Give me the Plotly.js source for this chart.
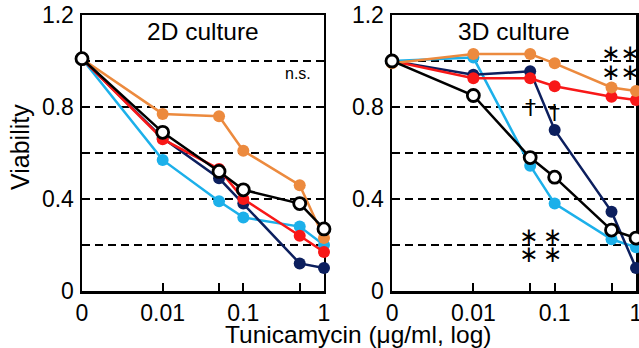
<!DOCTYPE html>
<html>
<head>
<meta charset="utf-8">
<script src="https://cdn.plot.ly/plotly-3.0.1.min.js"></script>
<style>html,body{margin:0;padding:0;background:#fff;}#chart{width:639px;height:348px;}</style>
</head>
<body>
<div id="chart"></div>
<script>
// Doses (µg/ml); the "0" dose is placed one decade below 0.01 on the log axis
const doses = [0.001, 0.01, 0.05, 0.1, 0.5, 1];
const doseTickText = ["0", "0.01", "", "0.1", "", "1"];
const yTickVals = [0, 0.2, 0.4, 0.6, 0.8, 1.0, 1.2];
const yTickText = ["0", "", "0.4", "", "0.8", "", "1.2"];

// 2D culture viability
const lightblue2D = [1.01, 0.57, 0.39, 0.32, 0.28, 0.20];
const navy2D      = [1.01, 0.665, 0.49, 0.38, 0.12, 0.10];
const red2D       = [1.01, 0.66, 0.53, 0.40, 0.24, 0.17];
const orange2D    = [1.01, 0.77, 0.76, 0.61, 0.46, 0.23];
const black2D     = [1.01, 0.69, 0.52, 0.44, 0.38, 0.27];

// 3D culture viability
const lightblue3D = [1.0, 1.015, 0.545, 0.38, 0.225, 0.19];
const navy3D      = [1.0, 0.94, 0.955, 0.70, 0.345, 0.10];
const red3D       = [1.0, 0.925, 0.925, 0.89, 0.845, 0.83];
const orange3D    = [0.99, 1.03, 1.03, 0.99, 0.885, 0.87];
const black3D     = [1.0, 0.85, 0.58, 0.495, 0.265, 0.23];

const colors = {lightblue: '#1CB0EA', navy: '#0C1F5E', red: '#F81818', orange: '#EC8A3E', black: '#000000'};

function filled(x, y, c, xa, ya) {
  return {x: x, y: y, xaxis: xa, yaxis: ya, type: 'scatter', mode: 'lines+markers', cliponaxis: false,
    line: {color: c, width: 2.5}, marker: {color: c, size: 12}, showlegend: false, hoverinfo: 'skip'};
}
function open(x, y, xa, ya) {
  return {x: x, y: y, xaxis: xa, yaxis: ya, type: 'scatter', mode: 'lines+markers', cliponaxis: false,
    line: {color: '#000', width: 2.5}, marker: {color: '#fff', size: 12, line: {color: '#000', width: 2.8}},
    showlegend: false, hoverinfo: 'skip'};
}

const data = [
  filled(doses, lightblue2D, colors.lightblue, 'x', 'y'),
  filled(doses, navy2D, colors.navy, 'x', 'y'),
  filled(doses, red2D, colors.red, 'x', 'y'),
  filled(doses, orange2D, colors.orange, 'x', 'y'),
  open(doses, black2D, 'x', 'y'),
  filled(doses, lightblue3D, colors.lightblue, 'x2', 'y2'),
  filled(doses, navy3D, colors.navy, 'x2', 'y2'),
  filled(doses, red3D, colors.red, 'x2', 'y2'),
  filled(doses, orange3D, colors.orange, 'x2', 'y2'),
  open(doses, black3D, 'x2', 'y2')
];

const font = {family: 'Liberation Sans, Arial, Helvetica, sans-serif', color: '#000'};

function xax(domain, anchor) {
  return {domain: domain, anchor: anchor, type: 'log', range: [-3, 0],
    tickvals: doses, ticktext: doseTickText, ticks: 'inside', ticklen: 8, tickwidth: 2, tickcolor: '#000',
    showline: true, linecolor: '#000', linewidth: 2.5, mirror: true, showgrid: false, zeroline: false,
    ticklabeloverflow: 'allow',
    tickfont: Object.assign({size: 23}, font), layer: 'below traces', fixedrange: true};
}
function yax(anchor) {
  return {domain: [0, 1], anchor: anchor, range: [0, 1.2], tickvals: yTickVals, ticktext: yTickText,
    ticks: '', showline: true, linecolor: '#000', linewidth: 2.5, mirror: true,
    showgrid: true, gridcolor: '#000', gridwidth: 2.8, griddash: '8px,5px', zeroline: false,
    ticklabelstandoff: 1,
    tickfont: Object.assign({size: 23}, font), layer: 'below traces', fixedrange: true};
}

function ann(text, x, y, xref, yref, size, extra) {
  return Object.assign({text: text, x: x, y: y, xref: xref, yref: yref, showarrow: false,
    font: Object.assign({size: size}, font), xanchor: 'center', yanchor: 'middle'}, extra || {});
}

function stars(x, y, baseSize, glyphSize, sep) {
  const g = '<span style="font-size:' + glyphSize + 'px">\u2217' + sep + '\u2217</span>';
  return {text: g + '<br>' + g, x: x, y: y, xref: 'x2', yref: 'y2', showarrow: false,
    font: {family: 'DejaVu Sans, sans-serif', size: baseSize, color: '#000'}, xanchor: 'center', yanchor: 'middle'};
}

// pixel helpers for paper-positioned titles (plot area: l=82, t=15, w=554, h=276)
const px = v => (v - 82) / 554;
const py = v => (291 - v) / 276;

const layout = {
  width: 639, height: 348,
  margin: {l: 82, r: 3, t: 15, b: 57},
  paper_bgcolor: '#fff', plot_bgcolor: '#fff',
  showlegend: false,
  xaxis: xax([0, 0.4368], 'y'),
  yaxis: yax('x'),
  xaxis2: xax([0.5596, 1], 'y2'),
  yaxis2: yax('x2'),
  annotations: [
    ann('2D culture', -1.5, 1.127, 'x', 'y', 24.5),
    ann('3D culture', -1.5, 1.127, 'x2', 'y2', 24.5),
    ann('n.s.', Math.log10(0.47), 0.945, 'x', 'y', 16),
    ann('\u2020', Math.log10(0.05), 0.80, 'x2', 'y2', 22, {font: {family: 'DejaVu Sans, sans-serif', size: 22, color: '#000'}}),
    ann('\u2020', Math.log10(0.1), 0.775, 'x2', 'y2', 22, {font: {family: 'DejaVu Sans, sans-serif', size: 22, color: '#000'}}),
    stars(-1.1803, 0.198, 13.5, 23, '\u2009'),
    stars(-0.1906, 0.994, 14.5, 23, ''),
    ann('Tunicamycin (\u03bcg/ml, log)', px(358), py(334), 'paper', 'paper', 24.5),
    ann('Viability', px(20), py(147), 'paper', 'paper', 25, {textangle: -90})
  ]
};

Plotly.newPlot('chart', data, layout, {staticPlot: true, displayModeBar: false});
</script>
</body>
</html>
